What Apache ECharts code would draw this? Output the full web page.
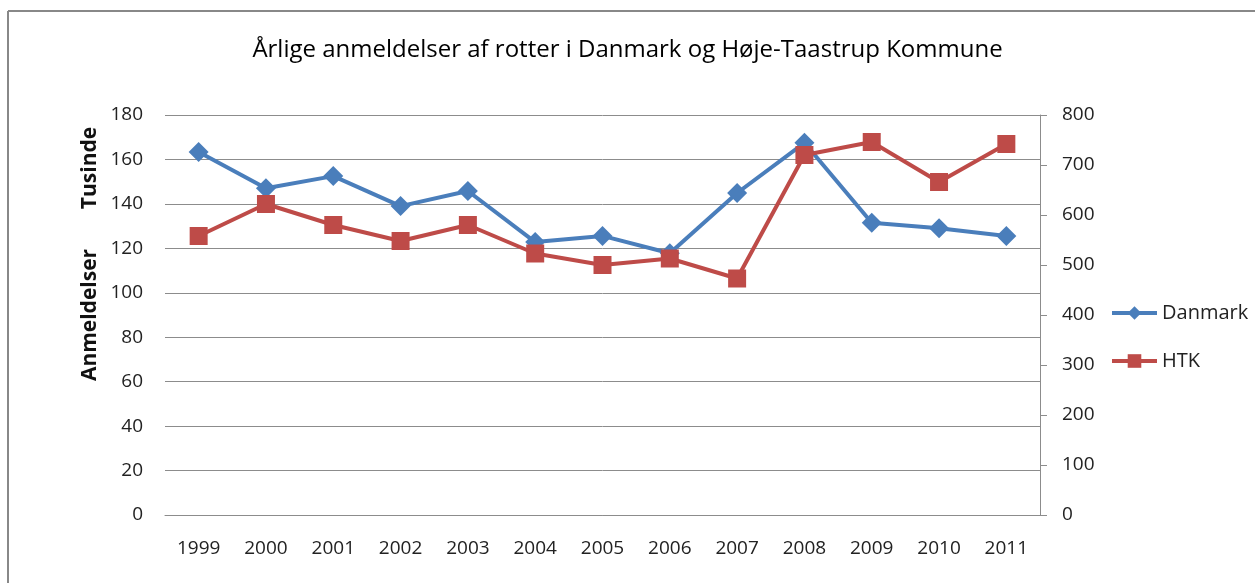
<!DOCTYPE html>
<html>
<head>
<meta charset="utf-8">
<script src="https://cdn.jsdelivr.net/npm/echarts@6/dist/echarts.min.js"></script>
<style>html,body{margin:0;padding:0;background:#fff;}#c{width:1255px;height:583px;}</style>
</head>
<body>
<div id="c"></div>
<script>
var titleText = 'Årlige anmeldelser af rotter i Danmark og Høje-Taastrup Kommune';
var years = ['1999','2000','2001','2002','2003','2004','2005','2006','2007','2008','2009','2010','2011'];
var danmark = [163.4, 147, 152.5, 139, 145.8, 122.8, 125.6, 117.8, 144.9, 167.5, 131.5, 129, 125.6];
var htk = [558, 622, 580, 548, 580, 523, 500, 513, 473, 720, 746, 666, 742];
var leftAxisName1 = 'Anmeldelser';
var leftAxisName2 = 'Tusinde';

var FONT = 'Open Sans';
var chart = echarts.init(document.getElementById('c'));
chart.setOption({
  animation: false,
  backgroundColor: '#fff',
  textStyle: { fontFamily: FONT },
  title: {
    text: titleText, left: 'center', top: 33,
    textStyle: { fontFamily: FONT, fontSize: 24, fontWeight: 'normal', color: '#000' }
  },
  legend: {
    orient: 'vertical', left: 1105, top: 298, itemWidth: 45, itemHeight: 17, itemGap: 28,
    lineStyle: { width: 4 },
    textStyle: { fontFamily: FONT, fontSize: 20, color: '#222' },
    data: ['Danmark', 'HTK']
  },
  grid: { left: 165, right: 215, top: 115, bottom: 68, containLabel: false },
  xAxis: {
    type: 'category', data: years, boundaryGap: true,
    axisLine: { lineStyle: { color: '#8c8c8c', width: 1 } },
    axisTick: { show: false },
    axisLabel: { margin: 24, fontFamily: FONT, fontSize: 19, color: '#222' }
  },
  yAxis: [
    {
      type: 'value', min: 0, max: 180, interval: 20, position: 'left',
      axisLine: { show: false }, axisTick: { show: false },
      splitLine: { lineStyle: { color: '#8c8c8c', width: 1 } },
      axisLabel: { margin: 22, fontFamily: FONT, fontSize: 19, color: '#222' }
    },
    {
      type: 'value', min: 0, max: 800, interval: 100, position: 'right',
      axisLine: { show: true, lineStyle: { color: '#8c8c8c', width: 1 } },
      axisTick: { show: true, length: 7, lineStyle: { color: '#8c8c8c' } },
      splitLine: { show: false },
      axisLabel: { margin: 22, fontFamily: FONT, fontSize: 19, color: '#222' }
    }
  ],
  series: [
    {
      name: 'Danmark', type: 'line', yAxisIndex: 0, data: danmark,
      symbol: 'diamond', symbolSize: 20, showAllSymbol: true,
      lineStyle: { color: '#4A7EBB', width: 4 },
      itemStyle: { color: '#4A7EBB' }, z: 2
    },
    {
      name: 'HTK', type: 'line', yAxisIndex: 1, data: htk,
      symbol: 'rect', symbolSize: 18, showAllSymbol: true,
      lineStyle: { color: '#BE4B48', width: 4 },
      itemStyle: { color: '#BE4B48' }, z: 3
    }
  ],
  graphic: [
    { type: 'line', shape: { x1: 8, y1: 11, x2: 1255, y2: 11 }, style: { stroke: '#888', lineWidth: 2 } },
    { type: 'line', shape: { x1: 8, y1: 11, x2: 8, y2: 583 }, style: { stroke: '#888', lineWidth: 2 } },
    { type: 'text', x: 90, y: 315, rotation: Math.PI / 2,
      style: { text: leftAxisName1, fontFamily: FONT, fontSize: 21, fontWeight: 'bold', fill: '#111', textAlign: 'center', textVerticalAlign: 'middle' } },
    { type: 'text', x: 90, y: 168, rotation: Math.PI / 2,
      style: { text: leftAxisName2, fontFamily: FONT, fontSize: 21, fontWeight: 'bold', fill: '#111', textAlign: 'center', textVerticalAlign: 'middle' } }
  ]
});
</script>
</body>
</html>
